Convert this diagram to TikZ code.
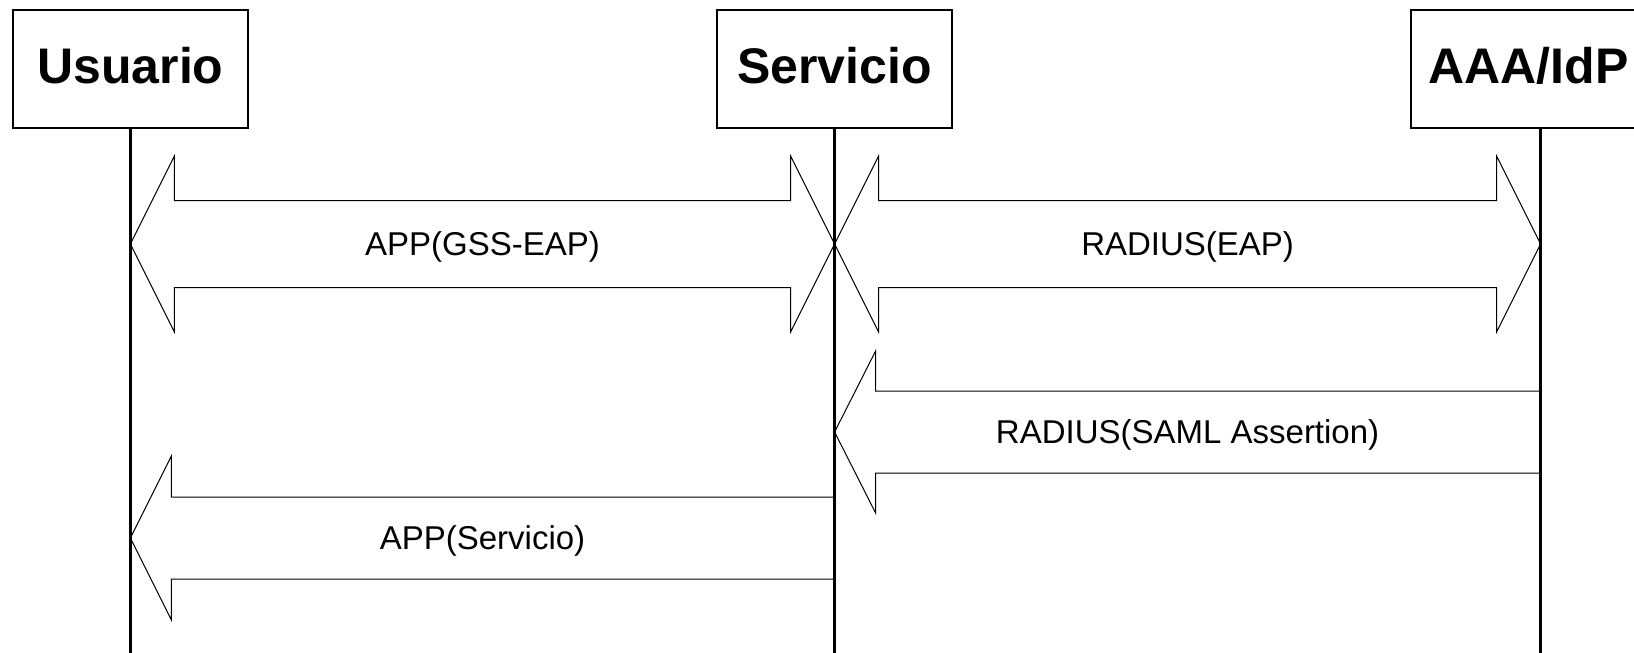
\documentclass[tikz,border=0pt]{standalone}
\usepackage{fontspec}
\setmainfont{Liberation Sans}
\usepackage{tikz}
\usetikzlibrary{calc}
\tikzstyle{caja} = [rectangle, draw, line width=2.5pt, minimum width=235pt, minimum height=118pt, inner sep=0pt, text depth=6.5pt, font=\fontsize{50}{58}\selectfont\bfseries]
\tikzstyle{vida} = [line width=2.5pt]
\tikzstyle{flecha} = [line width=1pt, line join=miter]
\tikzstyle{mensaje} = [text depth=0pt, font=\fontsize{33}{40}\selectfont]

\begin{document}
\begin{tikzpicture}[x=1pt, y=-1pt]
		\useasboundingbox (0,0) rectangle (1634,653);
		\clip (0,0) rectangle (1634,653);
		\node (usuario) at (130.4,68.8) [caja] {Usuario};
		\node (servicio) at (834.6,68.8) [caja] {Servicio};
		\node (aaa) at (1528.6,68.8) [caja] {AAA/IdP};
		\coordinate (vidaA) at ([xshift=12pt]aaa.south);
		
		% filas de los mensajes
		\coordinate (f1) at (0,244);
		\coordinate (f2) at (0,432);
		\coordinate (f3) at (0,538);
		\coordinate (fondo) at (0,653);
		
		\coordinate (u1) at (usuario.south |- f1);
		\coordinate (s1) at (servicio.south |- f1);
		\coordinate (a1) at (vidaA |- f1);
		\coordinate (s2) at (servicio.south |- f2);
		\coordinate (a2) at (vidaA |- f2);
		\coordinate (u3) at (usuario.south |- f3);
		\coordinate (s3) at (servicio.south |- f3);
		
		% flechas dobles
		\def\lc{44}
		\def\ac{88}
		\def\ae{43.5}
		\draw[flecha] (u1) -- ++(\lc,-\ac) -- ++(0,\ac-\ae) -- ($(s1)+(-\lc,-\ae)$) -- ++(0,\ae-\ac) -- (s1) -- ++(-\lc,\ac) -- ++(0,\ae-\ac) -- ($(u1)+(\lc,\ae)$) -- ++(0,\ac-\ae) -- cycle;
		\draw[flecha] (s1) -- ++(\lc,-\ac) -- ++(0,\ac-\ae) -- ($(a1)+(-\lc,-\ae)$) -- ++(0,\ae-\ac) -- (a1) -- ++(-\lc,\ac) -- ++(0,\ae-\ac) -- ($(s1)+(\lc,\ae)$) -- ++(0,\ac-\ae) -- cycle;
		
		% flechas simples
		\draw[flecha] (s2) -- ++(41,-81) -- ++(0,40) -- ($(a2)+(0,-41)$) -- ($(a2)+(0,41)$) -- ($(s2)+(41,41)$) -- ++(0,40) -- cycle;
		\draw[flecha] (u3) -- ++(41,-82) -- ++(0,41) -- ($(s3)+(0,-41)$) -- ($(s3)+(0,41)$) -- ($(u3)+(41,41)$) -- ++(0,41) -- cycle;
		
		\node (m1) at ($(u1)!0.5!(s1)$) [mensaje] {APP(GSS-EAP)};
		\node (m2) at ($(s1)!0.5!(a1)$) [mensaje] {RADIUS(EAP)};
		\node (m3) at ($(s2)!0.5!(a2)$) [mensaje] {RADIUS(SAML Assertion)};
		\node (m4) at ($(u3)!0.5!(s3)$) [mensaje] {APP(Servicio)};
		
		\draw[vida] (usuario.south) -- (usuario.south |- fondo);
		\draw[vida] (servicio.south) -- (servicio.south |- fondo);
		\draw[vida] (vidaA) -- (vidaA |- fondo);
\end{tikzpicture}
\end{document}
